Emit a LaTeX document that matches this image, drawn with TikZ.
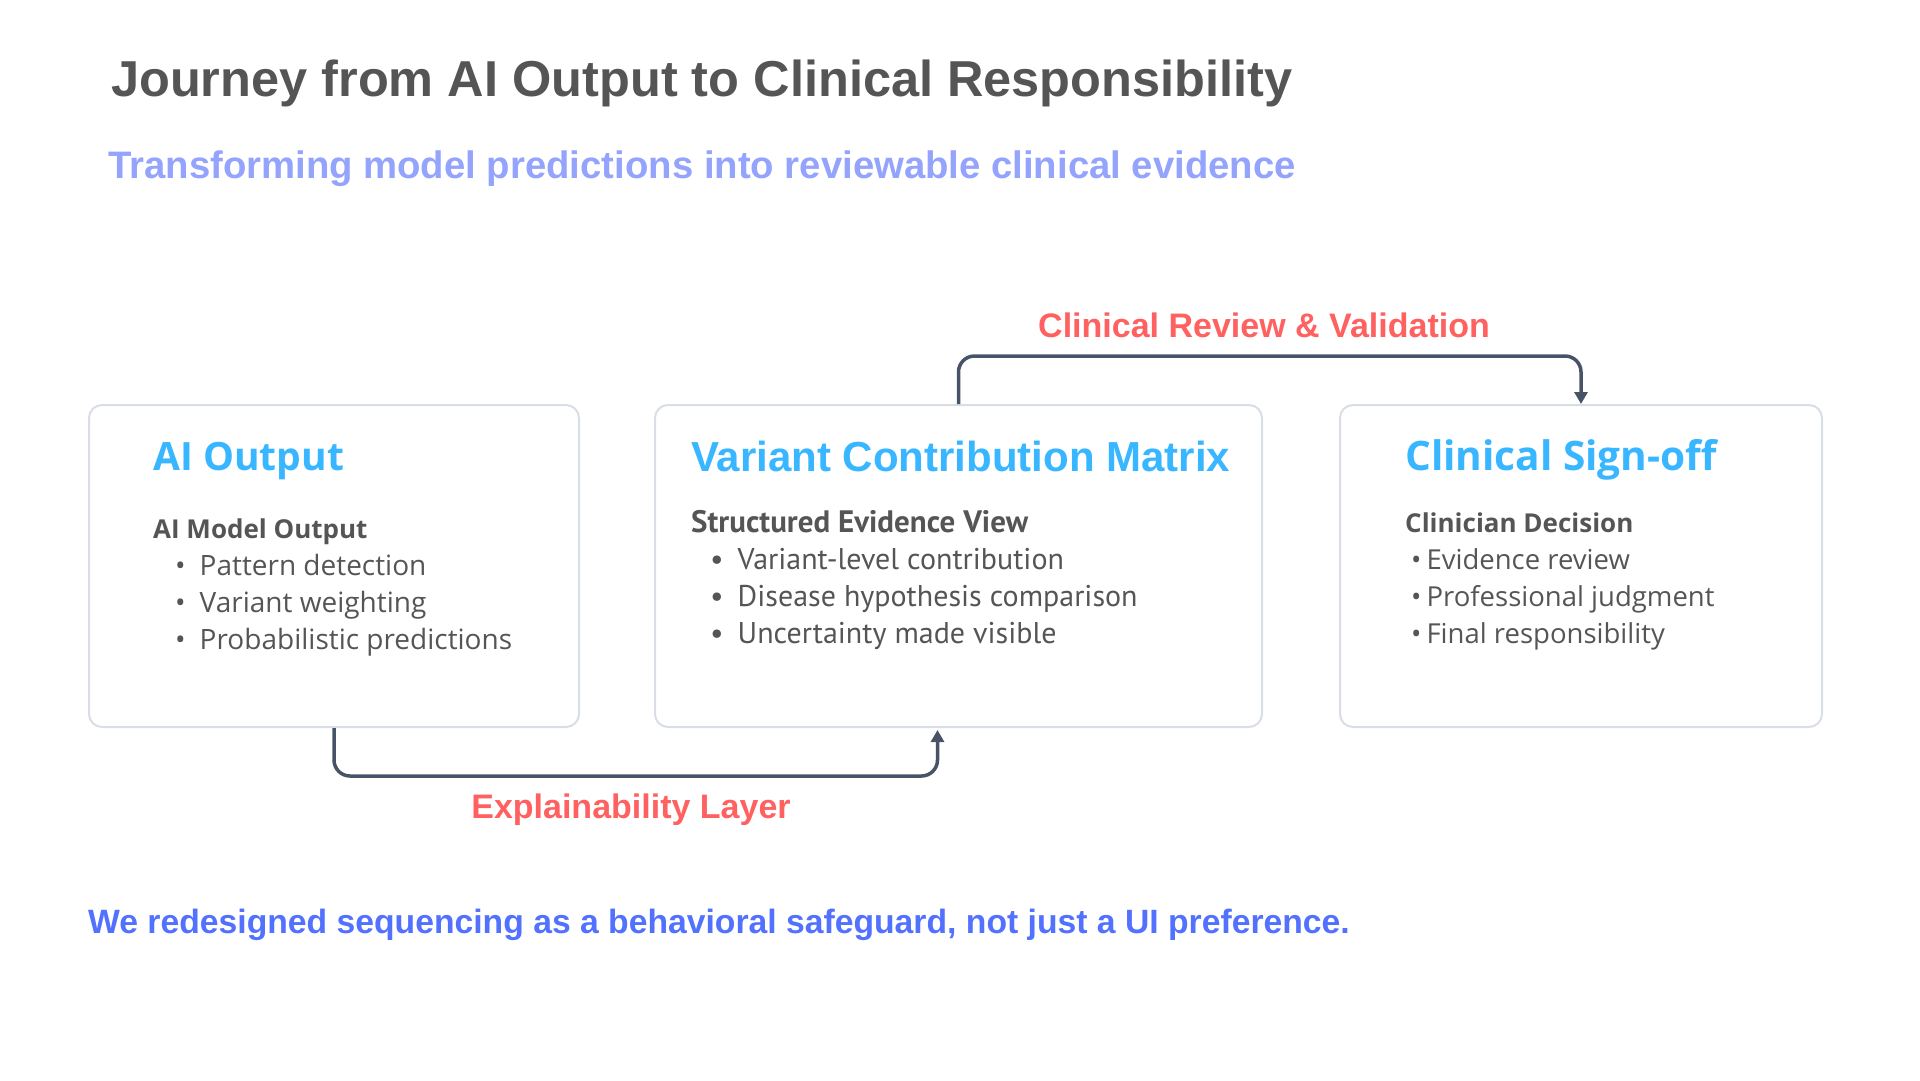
\documentclass[tikz,border=0pt]{standalone}
\usepackage{fontspec}
\setmainfont{Open Sans}
\newfontfamily\narrowfont{PT Sans}
\newfontfamily\displayfont{Liberation Sans}
\usetikzlibrary{arrows.meta,positioning,calc}
\definecolor{inkgray}{HTML}{555555}
\definecolor{subblue}{HTML}{94A3FC}
\definecolor{headblue}{HTML}{38B6FF}
\definecolor{linkred}{HTML}{FF6161}
\definecolor{footblue}{HTML}{5271FF}
\definecolor{edgegray}{HTML}{D9DDE6}
\definecolor{arrowslate}{HTML}{475467}
\tikzset{
  card/.style     ={draw=edgegray, line width=2pt, rounded corners=13pt, minimum height=322pt, inner sep=0pt},
  cardhead/.style ={anchor=base west, inner sep=0pt, text=headblue, font=\fontsize{39}{45}\selectfont\bfseries},
  cardbody/.style ={anchor=base west, inner sep=0pt, align=left, text=inkgray, font=\fontsize{27}{37}\selectfont},
  link/.style     ={draw=arrowslate, line width=3.5pt, rounded corners=16pt, -{Triangle[length=12pt, width=13pt]}},
  linklabel/.style={anchor=base, inner sep=0pt, text=linkred, font=\displayfont\fontsize{34}{40}\selectfont\bfseries},
}
\newcommand{\bitem}[1]{\hspace*{22pt}\textbullet\hspace{14pt}#1}
\newcommand{\titem}[1]{\hspace*{6pt}\textbullet\hspace{5pt}#1}

\begin{document}
\begin{tikzpicture}[x=1pt, y=-1pt]
  \useasboundingbox (0,0) rectangle (1920,1080);

  % ---- title block ----
  \node[anchor=base west, inner sep=0pt, text=inkgray, font=\displayfont\fontsize{50.5}{58}\selectfont\bfseries] (title) at (111,96)
    {Journey from AI Output to Clinical Responsibility};
  \node[anchor=base west, inner sep=0pt, text=subblue, font=\displayfont\fontsize{38.3}{44}\selectfont\bfseries] (subtitle) at (108,178)
    {Transforming model predictions into reviewable clinical evidence};

  % ---- the three stage cards ----
  \node[card, minimum width=490pt, anchor=north west] (box1) at (88,404) {};
  \node[card, minimum width=607pt, right=74pt of box1] (box2) {};
  \node[card, minimum width=482pt, right=76pt of box2] (box3) {};

  \node[cardhead] (head1) at ([shift={(65,66)}]box1.north west) {AI Output};
  \node[cardbody, font=\fontsize{28}{37}\selectfont] (body1) at ([shift={(65,245)}]box1.north west)
    {{\fontsize{26}{37}\selectfont\bfseries AI Model Output}\\ \bitem{Pattern detection}\\ \bitem{Variant weighting}\\ \bitem{Probabilistic predictions}};

  \node[cardhead, font=\displayfont\fontsize{42}{48}\selectfont\bfseries] (head2) at ([shift={(37,67)}]box2.north west) {Variant Contribution Matrix};
  \node[cardbody, font=\narrowfont\fontsize{30}{37}\selectfont] (body2) at ([shift={(37,239)}]box2.north west)
    {{\fontsize{31}{37}\selectfont\bfseries Structured Evidence View}\\ \hspace*{-3pt}\bitem{Variant-level contribution}\\ \hspace*{-3pt}\bitem{Disease hypothesis comparison}\\ \hspace*{-3pt}\bitem{Uncertainty made visible}};

  \node[cardhead, font=\fontsize{40.6}{46}\selectfont\bfseries] (head3) at ([shift={(66,66)}]box3.north west) {Clinical Sign-off};
  \node[cardbody, font=\fontsize{27.5}{37}\selectfont] (body3) at ([shift={(66,239)}]box3.north west)
    {{\fontsize{26}{37}\selectfont\bfseries Clinician Decision}\\ \titem{Evidence review}\\ \titem{Professional judgment}\\ \titem{Final responsibility}};

  % ---- connectors between stages ----
  \coordinate (expIn) at ([xshift=-21pt, yshift=-2pt]box2.south);
  \draw[link] (box1.south) -- ++(0,48) -| (expIn);
  \node[linklabel] (explabel) at (631,818) {Explainability Layer};

  \draw[link] (box2.north) -- ++(0,-48) -| (box3.north);
  \node[linklabel] (revlabel) at (1264,337) {Clinical Review \& Validation};

  % ---- closing statement ----
  \node[anchor=base west, inner sep=0pt, text=footblue, font=\displayfont\fontsize{33.7}{40}\selectfont\bfseries] (footer) at (88,933)
    {We redesigned sequencing as a behavioral safeguard, not just a UI preference.};
\end{tikzpicture}
\end{document}
